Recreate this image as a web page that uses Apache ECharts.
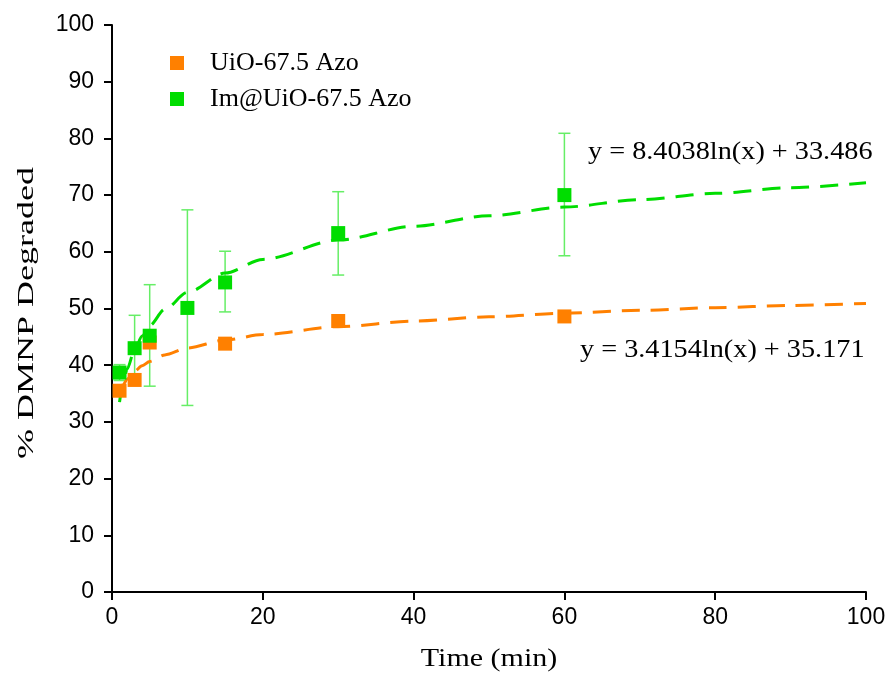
<!DOCTYPE html>
<html>
<head>
<meta charset="utf-8">
<script src="https://cdn.jsdelivr.net/npm/echarts@6/dist/echarts.min.js"></script>
<style>html,body{margin:0;padding:0;background:#fff}#c{width:893px;height:681px}</style>
</head>
<body>
<div id="c"></div>
<script>
// Measured data
var timeA = [1, 3, 5, 15, 30, 60];
var valA  = [35.5, 37.4, 44.0, 43.8, 47.8, 48.6];
var timeB = [1, 3, 5, 10, 15, 30, 60];
var valB  = [38.7, 43.0, 45.2, 50.1, 54.6, 63.3, 70.0];
var errLowB  = [37.3, 37.1, 36.3, 32.9, 49.4, 55.9, 59.3];
var errHighB = [40.1, 48.8, 54.2, 67.4, 60.1, 70.6, 80.9];
// Trendline sample points (from the displayed fit equations)
var trendX = [1, 1.5, 2, 3, 4, 5, 7, 10, 15, 20, 30, 40, 50, 60, 70, 80, 90, 100];
var trendA = [35.17, 36.56, 37.54, 38.92, 39.91, 40.67, 41.82, 43.04, 44.42, 45.40, 46.79, 47.77, 48.53, 49.16, 49.68, 50.14, 50.54, 50.90];
var trendB = [33.49, 36.89, 39.31, 42.72, 45.14, 47.01, 49.84, 52.84, 56.24, 58.66, 62.07, 64.49, 66.36, 67.89, 69.19, 70.31, 71.30, 72.19];
var nameA = 'UiO-67.5 Azo';
var nameB = 'Im@UiO-67.5 Azo';
var eqA = 'y = 3.4154ln(x) + 35.171';
var eqB = 'y = 8.4038ln(x) + 33.486';
var xTitle = 'Time (min)';
var yTitle = '% DMNP Degraded';

var colA = '#FF8000';
var colB = '#00DD00';
var colErr = '#66EE66';

function pairs(xs, ys) { return xs.map(function (x, i) { return [x, ys[i]]; }); }

var chart = echarts.init(document.getElementById('c'), null, {renderer: 'canvas'});
var serif = '"Liberation Serif", "Times New Roman", serif';
var sans = '"Liberation Sans", Arial, sans-serif';

chart.setOption({
  animation: false,
  backgroundColor: '#fff',
  grid: {left: 112, right: 27, top: 25, bottom: 89},
  legend: {
    data: [nameA, nameB],
    orient: 'vertical',
    left: 165, top: 44,
    itemWidth: 14, itemHeight: 14,
    itemGap: 8,
    icon: 'rect',
    textStyle: {fontFamily: serif, fontSize: 26, lineHeight: 28, color: '#000', padding: [0, 0, 0, 21]}
  },
  xAxis: {
    type: 'value', min: 0, max: 100, interval: 20,
    axisLine: {onZero: false, lineStyle: {color: '#000', width: 2}},
    axisTick: {show: true, length: 8, lineStyle: {color: '#000', width: 2}},
    axisLabel: {fontFamily: sans, fontSize: 23, color: '#000', margin: 14},
    splitLine: {show: false}
  },
  yAxis: {
    type: 'value', min: 0, max: 100, interval: 10,
    axisLine: {show: true, onZero: false, lineStyle: {color: '#000', width: 2}},
    axisTick: {show: true, length: 8, lineStyle: {color: '#000', width: 2}},
    axisLabel: {fontFamily: sans, fontSize: 23, color: '#000', margin: 18},
    splitLine: {show: false}
  },
  graphic: [
    {type: 'text', x: 588, y: 152, scaleX: 1.13,
     style: {text: eqB, x: 0, y: 0, align: 'left', verticalAlign: 'middle', font: '25px ' + serif, fill: '#000'}},
    {type: 'text', x: 580, y: 350, scaleX: 1.13,
     style: {text: eqA, x: 0, y: 0, align: 'left', verticalAlign: 'middle', font: '25px ' + serif, fill: '#000'}},
    {type: 'text', x: 489, y: 659, scaleX: 1.2,
     style: {text: xTitle, x: 0, y: 0, align: 'center', verticalAlign: 'middle', font: '25px ' + serif, fill: '#000'}},
    {type: 'text', x: 27, y: 313, rotation: Math.PI / 2, scaleX: 1.5,
     style: {text: yTitle, x: 0, y: 0, align: 'center', verticalAlign: 'middle', font: '24px ' + serif, fill: '#000'}}
  ],
  series: [
    {
      name: 'errB', type: 'custom', z: 2,
      data: timeB.map(function (x, i) { return [x, errLowB[i], errHighB[i]]; }),
      renderItem: function (params, api) {
        var lo = api.coord([api.value(0), api.value(1)]);
        var hi = api.coord([api.value(0), api.value(2)]);
        var w = 6;
        var st = {stroke: colErr, lineWidth: 1.5};
        return {type: 'group', children: [
          {type: 'line', shape: {x1: hi[0], y1: hi[1], x2: lo[0], y2: lo[1]}, style: st},
          {type: 'line', shape: {x1: hi[0] - w, y1: hi[1], x2: hi[0] + w, y2: hi[1]}, style: st},
          {type: 'line', shape: {x1: lo[0] - w, y1: lo[1], x2: lo[0] + w, y2: lo[1]}, style: st}
        ]};
      }
    },
    {
      name: 'trendA', type: 'line', z: 3, data: pairs(trendX, trendA),
      showSymbol: false, smooth: 0.3, smoothMonotone: 'x',
      lineStyle: {color: colA, width: 3, type: [18, 11]}
    },
    {
      name: 'trendB', type: 'line', z: 3, data: pairs(trendX, trendB),
      showSymbol: false, smooth: 0.3, smoothMonotone: 'x',
      lineStyle: {color: colB, width: 3, type: [18, 11]}
    },
    {
      name: nameA, type: 'scatter', z: 4, data: pairs(timeA, valA),
      symbol: 'rect', symbolSize: 14, itemStyle: {color: colA, opacity: 1}
    },
    {
      name: nameB, type: 'scatter', z: 5, data: pairs(timeB, valB),
      symbol: 'rect', symbolSize: 14, itemStyle: {color: colB, opacity: 1}
    }
  ]
});
</script>
</body>
</html>
